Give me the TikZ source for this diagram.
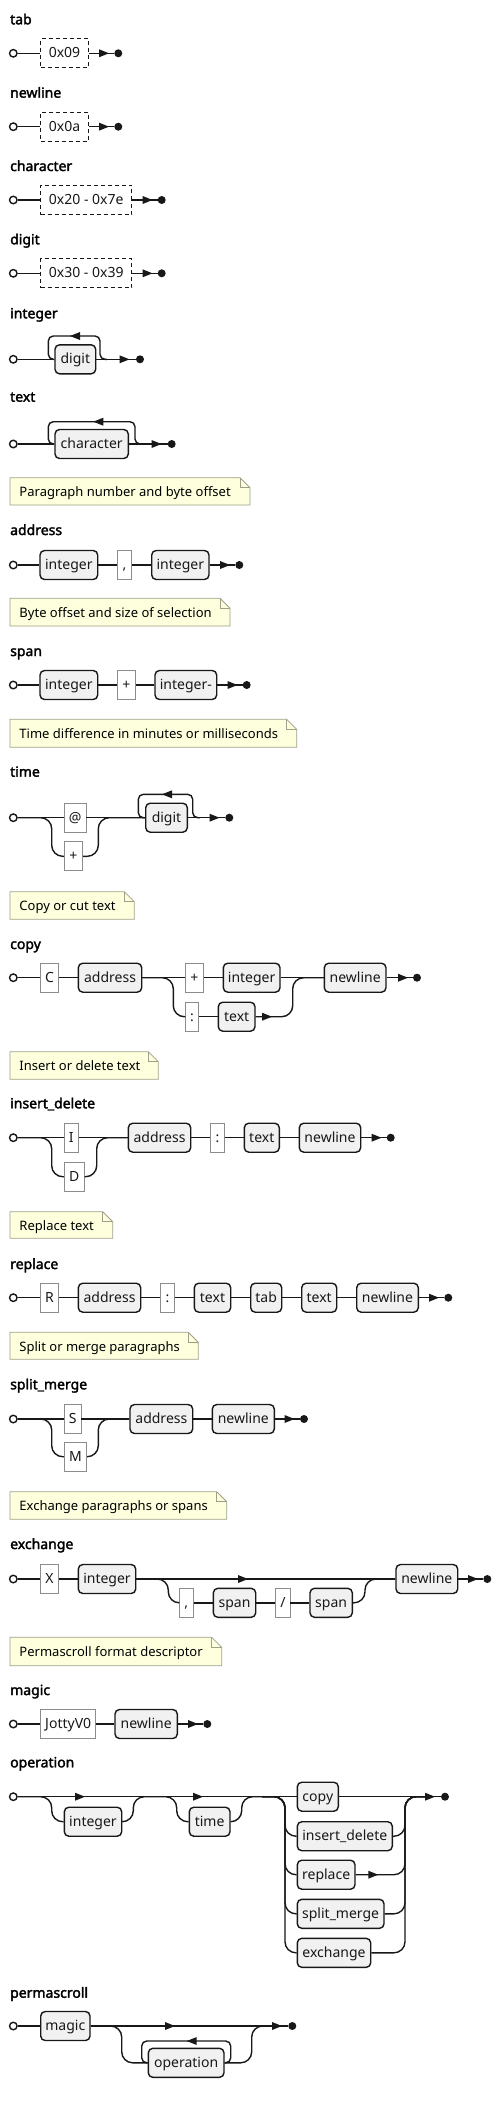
\documentclass[tikz,border=0pt]{standalone}
\usepackage{fontspec}
\setmainfont{Noto Sans}[AutoFakeBold=2.2]
\usetikzlibrary{arrows.meta,calc}
\definecolor{linec}{HTML}{181818}
\definecolor{ntfill}{HTML}{F1F1F1}
\definecolor{termc}{HTML}{8C8C8C}
\definecolor{notefill}{HTML}{FEFFDD}
\definecolor{notedraw}{HTML}{A0A08A}
\tikzset{
 wire/.style={draw=linec, line width=1.4pt, rounded corners=11pt},
 loopw/.style={draw=linec, line width=1.4pt, rounded corners=5pt},
 boxbase/.style={minimum height=29pt, inner sep=0pt, text height=11pt, text depth=2pt, font=\fontsize{14}{16}\selectfont, text=linec},
 nt/.style={boxbase, draw=linec, fill=ntfill, line width=1.4pt, rounded corners=4.5pt, minimum width=#1},
 term/.style={boxbase, draw=termc, fill=white, line width=0.8pt, minimum width=#1},
 dbox/.style={boxbase, draw=linec, dash pattern=on 4pt off 3pt, line width=0.9pt, fill=white, minimum width=#1},
 startc/.style={circle, draw=linec, fill=white, line width=1.4pt, inner sep=0pt, minimum size=7.5pt},
 endc/.style={circle, fill=linec, inner sep=0pt, minimum size=8pt},
 ttl/.style={anchor=base west, inner sep=0pt, font=\bfseries\fontsize{14}{16}\selectfont, text=black},
 notetxt/.style={anchor=west, inner sep=0pt, text height=11.5pt, text depth=1pt, font=\fontsize{13}{15}\selectfont, text=black},
 notebg/.style={fill=notefill, draw=notedraw, line width=0.8pt},
 rarr/.pic={\fill[linec] (0,0) -- (-10,-4) -- (-10,4) -- cycle;},
 larr/.pic={\fill[linec] (0,0) -- (10,-4) -- (10,4) -- cycle;},
}
\newcommand{\rrnote}[6]{%
 \filldraw[notebg] (#2,#3) -- (#4-10,#3) -- (#4,#3+10) -- (#4,#5) -- (#2,#5) -- cycle;
 \draw[notebg, fill=none] (#4-10,#3) -- (#4-10,#3+10) -- (#4,#3+10);
 \node[notetxt] (#1) at (#2+9.3,{(#3+#5)/2}) {#6};
}
\begin{document}
\begin{tikzpicture}[x=1pt,y=-1pt]
\useasboundingbox (0,0) rectangle (501,2103);
\fill[white] (0,0) rectangle (501,2103);

% ---------- tab
\node[ttl] (t1) at (10,24.3) {tab};
\node[startc] (s1) at (13.3,53.3) {};
\node[dbox=47.6pt] (b1) at (64.5,53.3) {0x09};
\node[endc] (e1) at (118.3,53.3) {};
\draw[wire] (s1) -- (b1);
\draw[wire] (b1) -- (e1);
\pic at (109,53.3) {rarr};

% ---------- newline
\node[ttl] (t2) at (10,97.7) {newline};
\node[startc] (s2) at (13.3,126.7) {};
\node[dbox=47.6pt] (b2) at (64.5,126.7) {0x0a};
\node[endc] (e2) at (118.3,126.7) {};
\draw[wire] (s2) -- (b2);
\draw[wire] (b2) -- (e2);
\pic at (109,126.7) {rarr};

% ---------- character
\node[ttl] (t3) at (10,171) {character};
\node[startc] (s3) at (13.3,200) {};
\node[dbox=91pt] (b3) at (86.2,200) {0x20 - 0x7e};
\node[endc] (e3) at (161.7,200) {};
\draw[wire] (s3) -- (b3);
\draw[wire] (b3) -- (e3);
\pic at (152.5,200) {rarr};

% ---------- digit
\node[ttl] (t4) at (10,244.3) {digit};
\node[startc] (s4) at (13.3,273.3) {};
\node[dbox=91pt] (b4) at (86.2,273.3) {0x30 - 0x39};
\node[endc] (e4) at (161.7,273.3) {};
\draw[wire] (s4) -- (b4);
\draw[wire] (b4) -- (e4);
\pic at (152.5,273.3) {rarr};

% ---------- integer
\node[ttl] (t5) at (10,318.3) {integer};
\node[startc] (s5) at (13.3,359.3) {};
\node[nt=40.7pt] (b5) at (75.35,359.3) {digit};
\node[endc] (e5) at (140,359.3) {};
\draw[wire] (s5) -- (b5);
\draw[wire] (b5) -- (e5);
\draw[loopw] (b5.west) -- (48.3,359.3) -- (48.3,336) -- (100,336) -- (100,359.3) -- (107,359.3);
\pic at (70,336) {larr};
\pic at (129.5,359.3) {rarr};

% ---------- text
\node[ttl] (t6) at (10,401.7) {text};
\node[startc] (s6) at (13.3,444) {};
\node[nt=73.3pt] (b6) at (91.65,444) {character};
\node[endc] (e6) at (171.7,444) {};
\draw[wire] (s6) -- (b6);
\draw[wire] (b6) -- (e6);
\draw[loopw] (b6.west) -- (48.3,444) -- (48.3,421.7) -- (135,421.7) -- (135,444) -- (142,444);
\pic at (93.3,421.7) {larr};
\pic at (161.5,444) {rarr};

\rrnote{n1}{10}{477.7}{250}{505}{Paragraph number and byte offset}

% ---------- address
\node[ttl] (t7) at (10,535) {address};
\node[startc] (s7) at (13.3,565) {};
\node[nt=57.7pt] (b7a) at (68.85,565) {integer};
\node[term=14.4pt] (b7b) at (124.5,565) {,};
\node[nt=57.3pt] (b7c) at (180.35,565) {integer};
\node[endc] (e7) at (239.3,565) {};
\draw[wire] (s7) -- (b7a) -- (b7b) -- (b7c) -- (e7);
\pic at (230,565) {rarr};

\rrnote{n2}{10}{598.3}{230}{626}{Byte offset and size of selection}

% ---------- span
\node[ttl] (t8) at (10,656) {span};
\node[startc] (s8) at (13.3,685) {};
\node[nt=57.7pt] (b8a) at (68.85,685) {integer};
\node[term=18.4pt] (b8b) at (126.5,685) {+};
\node[nt=61.7pt] (b8c) at (185.85,685) {integer-};
\node[endc] (e8) at (246.7,685) {};
\draw[wire] (s8) -- (b8a) -- (b8b) -- (b8c) -- (e8);
\pic at (237.5,685) {rarr};

\rrnote{n3}{10}{719.3}{296.7}{747.3}{Time difference in minutes or milliseconds}

% ---------- time
\node[ttl] (t9) at (10,776.7) {time};
\node[startc] (s9) at (13.3,817.7) {};
\node[term=21.7pt] (b9a) at (75.15,817.7) {@};
\node[term=18.4pt] (b9b) at (73.5,856.3) {+};
\node[nt=41.6pt] (b9c) at (166.5,817.7) {digit};
\node[endc] (e9) at (229.3,817.7) {};
\draw[wire] (s9) -- (b9a) -- (b9c) -- (e9);
\draw[wire] (s9.east) -- (51.7,817.7) -- (51.7,856.3) -- (b9b.west);
\draw[wire] (b9b.east) -- (98.3,856.3) -- (98.3,817.7) -- (b9c.west);
\draw[loopw] (b9c.west) -- (138.3,817.7) -- (138.3,794.3) -- (192.7,794.3) -- (192.7,817.7) -- (200,817.7);
\pic at (162,794.3) {larr};
\pic at (219.5,817.7) {rarr};

\rrnote{n4}{10}{891.7}{134.3}{919.3}{Copy or cut text}

% ---------- copy
\node[ttl] (t10) at (10,949) {copy};
\node[startc] (s10) at (13.3,977.7) {};
\node[term=17.6pt] (b10a) at (49.5,977.7) {C};
\node[nt=63.4pt] (b10b) at (110,977.7) {address};
\node[term=17.6pt] (b10c) at (194.5,977.7) {+};
\node[nt=56.7pt] (b10d) at (251.65,977.7) {integer};
\node[term=12.6pt] (b10e) at (192,1016.7) {:};
\node[nt=36.7pt] (b10f) at (236.65,1016.7) {text};
\node[nt=61.7pt] (b10g) at (355.15,977.7) {newline};
\node[endc] (e10) at (417,977.7) {};
\draw[wire] (s10) -- (b10a) -- (b10b) -- (b10c) -- (b10d) -- (b10g) -- (e10);
\draw[wire] (b10b.east) -- (173.3,977.7) -- (173.3,1016.7) -- (b10e.west);
\draw[wire] (b10e) -- (b10f);
\draw[wire] (b10f.east) -- (292.7,1016.7) -- (292.7,977.7) -- (b10g.west);
\pic at (272,1016.7) {rarr};
\pic at (408,977.7) {rarr};

\rrnote{n5}{10}{1051.7}{158.3}{1079.3}{Insert or delete text}

% ---------- insert_delete
\node[ttl] (t11) at (10,1108.3) {insert\_delete};
\node[startc] (s11) at (13.3,1137.7) {};
\node[term=14pt] (b11a) at (71.3,1137.7) {I};
\node[term=20pt] (b11b) at (74.3,1176.7) {D};
\node[nt=62.4pt] (b11c) at (159.5,1137.7) {address};
\node[term=13.6pt] (b11d) at (217.5,1137.7) {:};
\node[nt=35pt] (b11e) at (261.8,1137.7) {text};
\node[nt=61.4pt] (b11f) at (330,1137.7) {newline};
\node[endc] (e11) at (390.7,1137.7) {};
\draw[wire] (s11) -- (b11a) -- (b11c) -- (b11d) -- (b11e) -- (b11f) -- (e11);
\draw[wire] (s11.east) -- (51.7,1137.7) -- (51.7,1176.7) -- (b11b.west);
\draw[wire] (b11b.east) -- (96.7,1176.7) -- (96.7,1137.7) -- (b11c.west);
\pic at (381.5,1137.7) {rarr};

\rrnote{n6}{10}{1211.7}{112.7}{1238.3}{Replace text}

% ---------- replace
\node[ttl] (t12) at (10,1269) {replace};
\node[startc] (s12) at (13.3,1297.7) {};
\node[term=17.6pt] (b12a) at (49.5,1297.7) {R};
\node[nt=62.4pt] (b12b) at (109.5,1297.7) {address};
\node[term=13.6pt] (b12c) at (167.5,1297.7) {:};
\node[nt=36.4pt] (b12d) at (212.5,1297.7) {text};
\node[nt=31pt] (b12e) at (266.2,1297.7) {tab};
\node[nt=35pt] (b12f) at (319.2,1297.7) {text};
\node[nt=61.6pt] (b12g) at (387.5,1297.7) {newline};
\node[endc] (e12) at (448.3,1297.7) {};
\draw[wire] (s12) -- (b12a) -- (b12b) -- (b12c) -- (b12d) -- (b12e) -- (b12f) -- (b12g) -- (e12);
\pic at (439,1297.7) {rarr};

\rrnote{n7}{10}{1332.3}{198.3}{1359.3}{Split or merge paragraphs}

% ---------- split_merge
\node[ttl] (t13) at (10,1389.3) {split\_merge};
\node[startc] (s13) at (13.3,1419) {};
\node[term=16.7pt] (b13a) at (72.65,1419) {S};
\node[term=22.4pt] (b13b) at (75.5,1456.7) {M};
\node[nt=62.7pt] (b13c) at (161.35,1419) {address};
\node[nt=62pt] (b13d) at (243.3,1419) {newline};
\node[endc] (e13) at (304,1419) {};
\draw[wire] (s13) -- (b13a) -- (b13c) -- (b13d) -- (e13);
\draw[wire] (s13.east) -- (51.7,1419) -- (51.7,1456.7) -- (b13b.west);
\draw[wire] (b13b.east) -- (98.3,1456.7) -- (98.3,1419) -- (b13c.west);
\pic at (294.5,1419) {rarr};

\rrnote{n8}{10}{1491.7}{226.7}{1519.3}{Exchange paragraphs or spans}

% ---------- exchange
\node[ttl] (t14) at (10,1549) {exchange};
\node[startc] (s14) at (13.3,1579) {};
\node[term=17.6pt] (b14a) at (49.5,1579) {X};
\node[nt=57.4pt] (b14b) at (107,1579) {integer};
\node[term=14pt] (b14c) at (186.3,1602.8) {,};
\node[nt=42.4pt] (b14d) at (234.5,1602.8) {span};
\node[term=14.3pt] (b14e) at (282.85,1602.8) {/};
\node[nt=42.3pt] (b14f) at (331.15,1602.8) {span};
\node[nt=61.7pt] (b14g) at (426.85,1579) {newline};
\node[endc] (e14) at (487.3,1579) {};
\draw[wire] (s14) -- (b14a) -- (b14b) -- (b14g) -- (e14);
\draw[wire] (b14b.east) -- (168.3,1579) -- (168.3,1602.8) -- (b14c.west);
\draw[wire] (b14c) -- (b14d) -- (b14e) -- (b14f);
\draw[wire] (b14f.east) -- (365,1602.8) -- (365,1579) -- (b14g.west);
\pic at (248,1579) {rarr};
\pic at (478,1579) {rarr};

\rrnote{n9}{10}{1637.3}{221.7}{1665.7}{Permascroll format descriptor}

% ---------- magic
\node[ttl] (t15) at (10,1695) {magic};
\node[startc] (s15) at (13.3,1724) {};
\node[term=55pt] (b15a) at (68.2,1724) {JottyV0};
\node[nt=62.3pt] (b15b) at (146.15,1724) {newline};
\node[endc] (e15) at (207.3,1724) {};
\draw[wire] (s15) -- (b15a) -- (b15b) -- (e15);
\pic at (198,1724) {rarr};

% ---------- operation
\node[ttl] (t16) at (10,1767.3) {operation};
\node[startc] (s16) at (13.3,1796.7) {};
\node[nt=57.4pt] (b16a) at (93,1821.7) {integer};
\node[nt=40.7pt] (b16b) at (209.65,1821.7) {time};
\node[nt=41pt] (b16c) at (317.8,1796.7) {copy};
\node[nt=95pt] (b16d) at (344.8,1836.2) {insert\_delete};
\node[nt=57.7pt] (b16e) at (326.15,1874.7) {replace};
\node[nt=86.7pt] (b16f) at (340.65,1913.8) {split\_merge};
\node[nt=73.4pt] (b16g) at (334,1952.8) {exchange};
\node[endc] (e16) at (445,1796.7) {};
\coordinate (j16a) at (150,1796.7);
\coordinate (j16b) at (262,1796.7);
\coordinate (j16c) at (425,1796.7);
\draw[wire] (s16) -- (b16c) -- (e16);
\draw[wire] (s16.east) -- (51.7,1796.7) -- (51.7,1821.7) -- (b16a.west);
\draw[wire] (b16a.east) -- (133.3,1821.7) -- (133.3,1796.7) -- (j16a);
\draw[wire] (j16a) -- (176.7,1796.7) -- (176.7,1821.7) -- (b16b.west);
\draw[wire] (b16b.east) -- (241.7,1821.7) -- (241.7,1796.7) -- (j16b);
\foreach \k/\yy in {d/1836.2,e/1874.7,f/1913.8,g/1952.8}{
  \draw[wire] (j16b) -- (285,1796.7) -- (285,\yy) -- (b16\k.west);
  \draw[wire] (b16\k.east) -- (405,\yy) -- (405,1796.7) -- (j16c);
}
\pic at (85,1796.7) {rarr};
\pic at (203,1796.7) {rarr};
\pic at (378.3,1874.7) {rarr};
\pic at (435,1796.7) {rarr};

% ---------- permascroll
\node[ttl] (t17) at (10,1997.7) {permascroll};
\node[startc] (s17) at (13.3,2026) {};
\node[nt=49.3pt] (b17a) at (65.35,2026) {magic};
\node[nt=75.7pt] (b17b) at (186.15,2062.8) {operation};
\node[endc] (e17) at (292.3,2026) {};
\coordinate (j17) at (270,2026);
\draw[wire] (s17) -- (b17a) -- (e17);
\draw[wire] (b17a.east) -- (121.7,2026) -- (121.7,2062.8) -- (b17b.west);
\draw[wire] (b17b.east) -- (251.7,2062.8) -- (251.7,2026) -- (j17);
\draw[loopw] (b17b.west) -- (141.7,2062.8) -- (141.7,2041) -- (230.7,2041) -- (230.7,2062.8) -- (b17b.east);
\pic at (186.7,2041) {larr};
\pic at (175,2026) {rarr};
\pic at (282,2026) {rarr};
\end{tikzpicture}
\end{document}
